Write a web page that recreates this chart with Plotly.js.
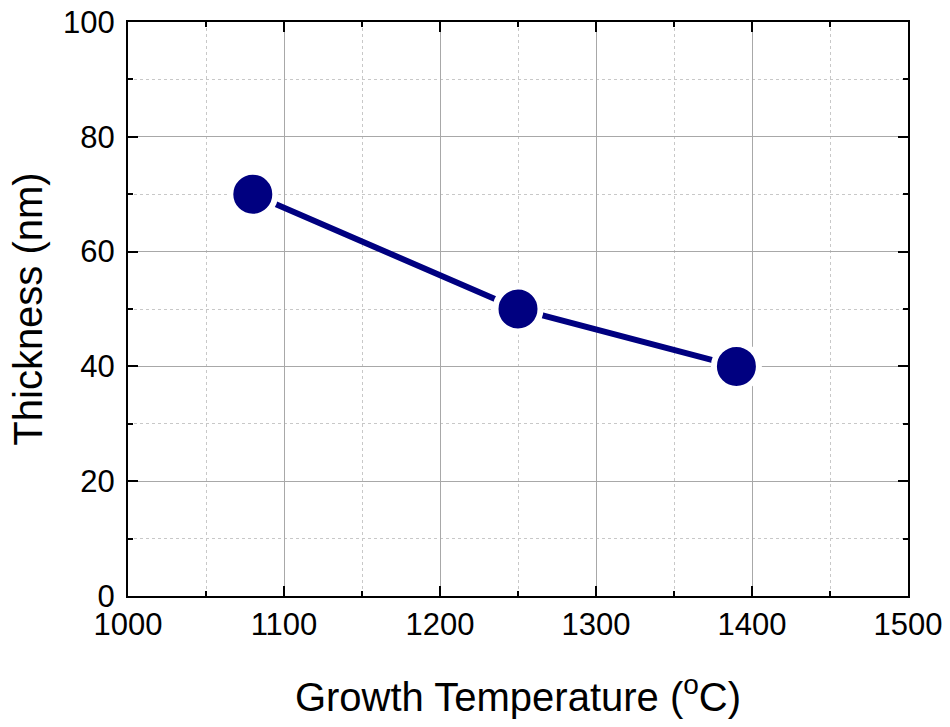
<!DOCTYPE html>
<html>
<head>
<meta charset="utf-8">
<script src="https://cdn.plot.ly/plotly-3.0.1.min.js"></script>
<style>html,body{margin:0;padding:0;background:#fff;}#chart{width:950px;height:727px;}</style>
</head>
<body>
<div id="chart"></div>
<script>
const temperature = [1080, 1250, 1390];
const thickness = [70, 50, 40];
const xTickVals = [1000, 1100, 1200, 1300, 1400, 1500];
const yTickVals = [0, 20, 40, 60, 80, 100];

const font = "Liberation Sans, Arial, sans-serif";

const trace = {
  x: temperature,
  y: thickness,
  type: 'scatter',
  mode: 'lines+markers',
  line: {color: '#000080', width: 6},
  marker: {color: '#000080', size: 45, line: {color: '#ffffff', width: 6}},
  cliponaxis: false,
  showlegend: false
};

const axisCommon = {
  showline: true, linecolor: '#000', linewidth: 2, mirror: 'ticks',
  ticks: 'inside', ticklen: 10, tickwidth: 2, tickcolor: '#000',
  showgrid: true, gridcolor: '#a8a8a8', gridwidth: 1,
  zeroline: false,
  tickfont: {family: font, size: 31, color: '#000'},
};

const layout = {
  width: 950, height: 727,
  margin: {l: 128, r: 42, t: 22, b: 131},
  paper_bgcolor: '#fff', plot_bgcolor: '#fff',
  font: {family: font, color: '#000'},
  xaxis: Object.assign({}, axisCommon, {
    range: [1000, 1500], tickmode: 'array', tickvals: xTickVals,
    ticktext: xTickVals.map(String),
    minor: {dtick: 50, ticklen: 5, tickwidth: 2, tickcolor: '#000', ticks: 'inside', showgrid: true, gridcolor: '#c8c8c8', griddash: 'dot', gridwidth: 1},
    title: {text: 'Growth Temperature (<sup>o</sup>C)', font: {family: font, size: 40, color: '#000'}, standoff: 42}
  }),
  yaxis: Object.assign({}, axisCommon, {
    range: [0, 100], tickmode: 'array', tickvals: yTickVals,
    ticktext: yTickVals.map(String),
    ticklabelstandoff: 5,
    minor: {dtick: 10, ticklen: 5, tickwidth: 2, tickcolor: '#000', ticks: 'inside', showgrid: true, gridcolor: '#c8c8c8', griddash: 'dot', gridwidth: 1},
    title: {text: 'Thickness (nm)', font: {family: font, size: 40, color: '#000'}, standoff: 8}
  })
};

Plotly.newPlot('chart', [trace], layout, {displayModeBar: false, staticPlot: true});
</script>
</body>
</html>
